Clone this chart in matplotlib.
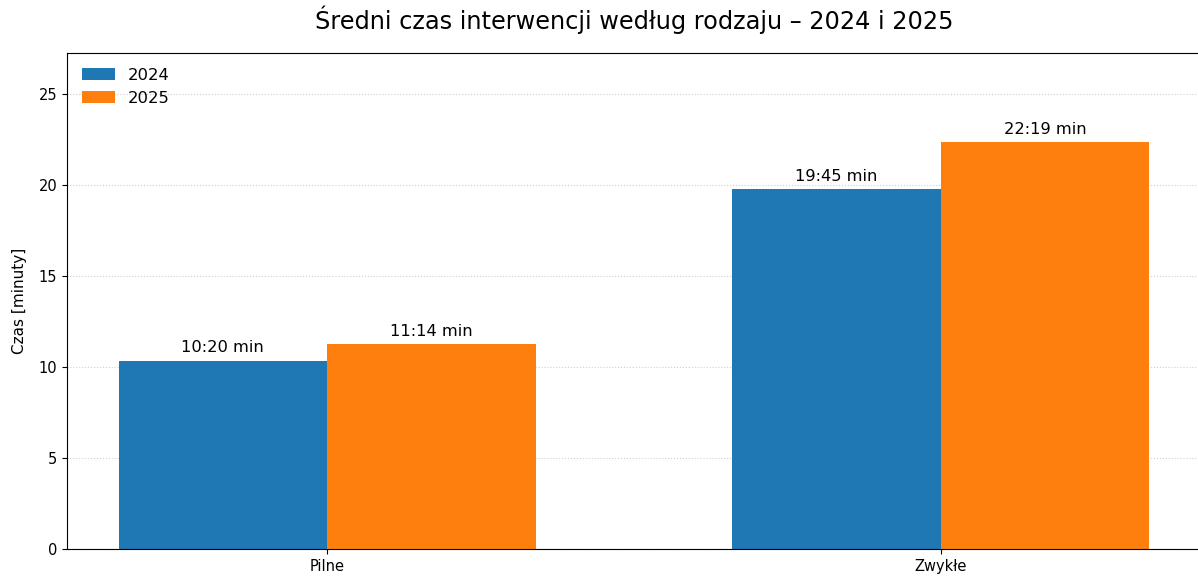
import matplotlib.pyplot as plt
import numpy as np

categories = ['Pilne', 'Zwykłe']
years = ['2024', '2025']
# average times in minutes (mm:ss labels)
values_2024 = [10 + 20 / 60, 19 + 45 / 60]
values_2025 = [11 + 14 / 60, 22 + 19 / 60]
labels_2024 = ['10:20 min', '19:45 min']
labels_2025 = ['11:14 min', '22:19 min']

fig = plt.figure(figsize=(11.98, 5.78), dpi=100)
ax = fig.add_axes([67 / 1198, 1 - 549 / 578, (1201 - 67) / 1198, (549 - 53) / 578])

x = np.arange(len(categories))
width = 0.34

bars1 = ax.bar(x - width / 2, values_2024, width, label=years[0], color='#1f77b4')
bars2 = ax.bar(x + width / 2, values_2025, width, label=years[1], color='#ff7f0e')

for bars, labels in [(bars1, labels_2024), (bars2, labels_2025)]:
    for b, lab in zip(bars, labels):
        ax.annotate(lab, (b.get_x() + b.get_width() / 2, b.get_height()),
                    xytext=(0, 4), textcoords='offset points',
                    ha='center', va='bottom', fontsize=11.7)

ax.set_xticks(x)
ax.set_xticklabels(categories)
ax.tick_params(labelsize=10.5)
ax.set_ylabel('Czas [minuty]', fontsize=11, labelpad=8)
ax.set_ylim(0, max(values_2025) * 1.22)
ax.grid(axis='y', linestyle=':', alpha=0.6)
ax.set_axisbelow(True)
ax.legend(loc='upper left', frameon=False, fontsize=11.8)
ax.set_title('Średni czas interwencji według rodzaju – 2024 i 2025', fontsize=17.3, pad=17)

fig.savefig('out.png', dpi=100)
